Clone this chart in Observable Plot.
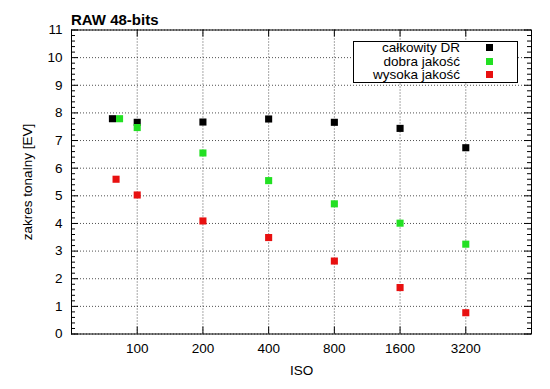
<!DOCTYPE html>
<html><head><meta charset="utf-8">
<script src="https://cdn.jsdelivr.net/npm/d3@7"></script>
<script src="https://cdn.jsdelivr.net/npm/@observablehq/plot@0.6"></script>
<style>
body{margin:0;background:#fff;}
#wrap{position:relative;width:550px;height:389px;font-family:"Liberation Sans",Arial,sans-serif;color:#000;}
#title{position:absolute;left:71px;top:12px;font-weight:bold;font-size:15px;line-height:15px;white-space:nowrap;}
#legend{position:absolute;left:353px;top:41px;width:163px;height:40px;border:1px solid #000;background:#fff;font-size:13.5px;}
.lt{position:absolute;left:0;width:106px;text-align:right;line-height:13.5px;height:13.5px;white-space:nowrap;}
.lm{position:absolute;left:132px;width:7px;height:7px;}
</style>
</head><body>
<div id="wrap"><div id="title">RAW 48-bits</div><div id="legend"></div></div>
<script>
// ---- data ----
const seriesNames = ["całkowity DR", "dobra jakość", "wysoka jakość"];
const seriesColors = ["#000000", "#22e022", "#e81010"];
const isoTotal = [77, 100, 200, 400, 800, 1600, 3200];
const isoGood  = [83, 100, 200, 400, 800, 1600, 3200];
const isoHigh  = [80, 100, 200, 400, 800, 1600, 3200];
const valTotal = [7.79, 7.66, 7.67, 7.78, 7.66, 7.44, 6.74];
const valGood  = [7.79, 7.47, 6.55, 5.55, 4.71, 4.01, 3.25];
const valHigh  = [5.60, 5.03, 4.09, 3.49, 2.64, 1.68, 0.77];
const xTicks = [100, 200, 400, 800, 1600, 3200];
const yTicks = [0, 1, 2, 3, 4, 5, 6, 7, 8, 9, 10, 11];
const yMinor = d3.range(0, 11.001, 0.2).filter(v => Math.abs(v - Math.round(v)) > 1e-6);

const isoArrays = [isoTotal, isoGood, isoHigh];
const valArrays = [valTotal, valGood, valHigh];
const points = [];
seriesNames.forEach((s, i) => isoArrays[i].forEach((iso, j) => points.push({series: s, iso, v: valArrays[i][j]})));

const W = 550, H = 389, mL = 71, mR = 19, mT = 29.5, mB = 55.5;
const FW = W - mL - mR, FH = H - mT - mB;

const grid = {stroke: "#333", strokeOpacity: 0.85, strokeDasharray: "1,2", strokeWidth: 1};

const chart = Plot.plot({
  width: W, height: H,
  marginLeft: mL, marginRight: mR, marginTop: mT, marginBottom: mB,
  style: {fontFamily: "'Liberation Sans', Arial, sans-serif", fontSize: "13.5px", background: "transparent", color: "#000"},
  x: {type: "log", base: 2, domain: [50, 6400]},
  y: {domain: [0, 11]},
  color: {domain: seriesNames, range: seriesColors},
  marks: [
    Plot.gridX(xTicks, {...grid}),
    Plot.gridY(yTicks, {...grid}),
    Plot.axisX(xTicks, {tickSize: 0, tickPadding: 9.5, tickFormat: d => String(d), label: "ISO", labelAnchor: "center", labelOffset: 41, labelArrow: "none"}),
    Plot.axisY(yTicks, {tickSize: 0, tickPadding: 9, label: "zakres tonalny [EV]", labelAnchor: "center", labelOffset: 49, labelArrow: "none"}),
    Plot.tickY(yTicks, {y: d => d, insetRight: FW - 7, stroke: "#000"}),
    Plot.tickY(yTicks, {y: d => d, insetLeft: FW - 7, stroke: "#000"}),
    Plot.tickY(yMinor, {y: d => d, insetRight: FW - 4, stroke: "#000"}),
    Plot.tickY(yMinor, {y: d => d, insetLeft: FW - 4, stroke: "#000"}),
    Plot.tickX(xTicks, {x: d => d, insetTop: FH - 7, stroke: "#000"}),
    Plot.tickX(xTicks, {x: d => d, insetBottom: FH - 7, stroke: "#000"}),
    Plot.frame({stroke: "#000"}),
    Plot.dot(points, {x: "iso", y: "v", fill: "series", symbol: "square", r: 4, stroke: null})
  ]
});
document.getElementById("wrap").insertBefore(chart, document.getElementById("title"));
chart.style.position = "absolute"; chart.style.left = "0"; chart.style.top = "0";

const leg = document.getElementById("legend");
seriesNames.forEach((s, i) => {
  const t = document.createElement("div");
  t.className = "lt"; t.textContent = s; t.style.top = (13.5 * i - 1) + "px";
  leg.appendChild(t);
  const m = document.createElement("div");
  m.className = "lm"; m.style.background = seriesColors[i]; m.style.top = (13.5 * i + 2.25) + "px";
  leg.appendChild(m);
});
</script>
</body></html>
